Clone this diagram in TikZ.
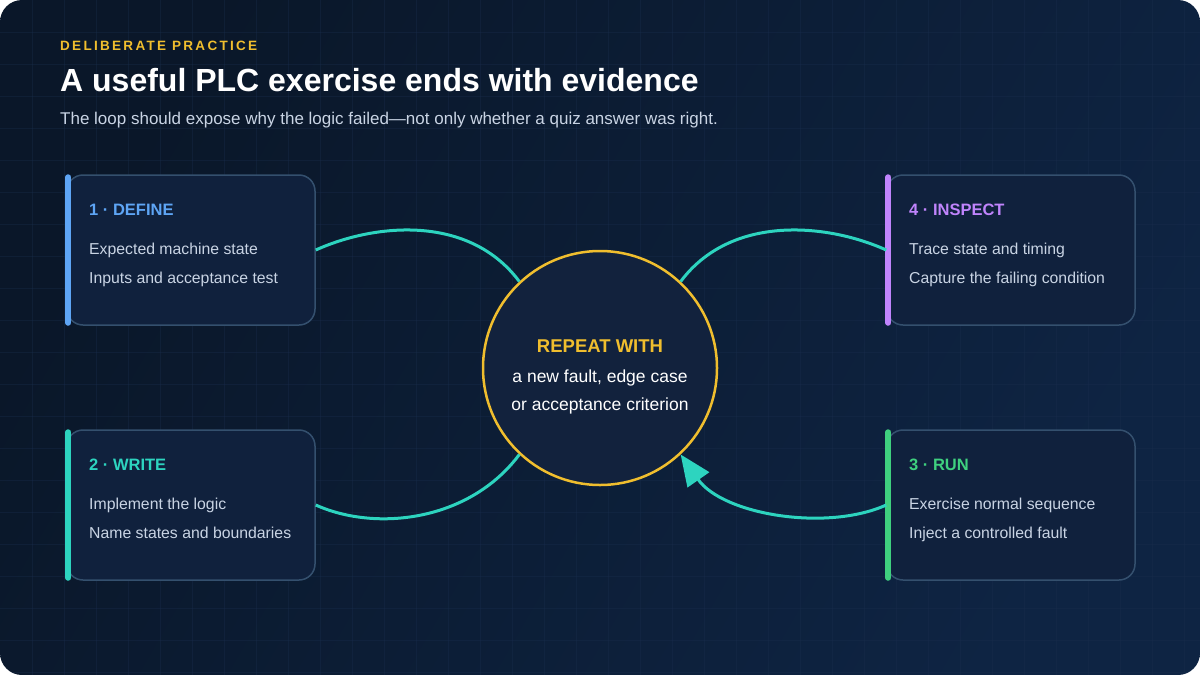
\documentclass[tikz,border=0pt]{standalone}
\usepackage{fontspec}
\setmainfont{Liberation Sans}
\newfontfamily\kickerfont[LetterSpace=17]{Liberation Sans}
\usetikzlibrary{arrows.meta}
\definecolor{bgdark}{HTML}{0A1729}
\definecolor{bglite}{HTML}{0E2443}
\definecolor{gridcol}{HTML}{1A2E4E}
\definecolor{cardfill}{HTML}{10213D}
\definecolor{cardline}{HTML}{34506E}
\definecolor{hubfill}{HTML}{12223D}
\definecolor{bodytext}{HTML}{C9D4E4}
\definecolor{gold}{HTML}{F0BE2E}
\definecolor{loopcol}{HTML}{2DD4BF}
\definecolor{defcol}{HTML}{5EA5F5}
\definecolor{inspcol}{HTML}{C084FC}
\definecolor{runcol}{HTML}{3FD07F}
\tikzset{every picture/.style={x=1pt,y=-1pt}}
\tikzset{card/.style={draw=cardline,fill=cardfill,line width=1.5pt,rounded corners=16pt,minimum width=248pt,minimum height=150pt,inner sep=0pt}}
\tikzset{bar/.style={line width=6pt,line cap=round,shorten <=3pt,shorten >=3pt}}
\tikzset{head/.style={anchor=base west,inner sep=0pt,font=\bfseries\fontsize{16.5}{19}\selectfont}}
\tikzset{body/.style={anchor=base west,inner sep=0pt,text=bodytext,font=\fontsize{15.8}{19}\selectfont}}
\tikzset{hub/.style={circle,draw=gold,line width=2.5pt,fill=hubfill,minimum size=234pt,inner sep=0pt}}
\tikzset{flow/.style={loopcol,line width=3pt}}

\begin{document}
\begin{tikzpicture}
\useasboundingbox (0,0) rectangle (1200,675);
\shade [rounded corners=22pt,left color=bgdark,right color=bglite,shading angle=60] (0,0) rectangle (1200,675);
\begin{scope}
\clip [rounded corners=22pt] (0,0) rectangle (1200,675);
\foreach \gx in {32,64,...,1184} \draw [gridcol,line width=0.8pt,opacity=0.35] (\gx,0) -- (\gx,675);
\foreach \gy in {32,64,...,672} \draw [gridcol,line width=0.8pt,opacity=0.35] (0,\gy) -- (1200,\gy);
\end{scope}

% header
\node [anchor=base west,inner sep=0pt,gold,font=\kickerfont\bfseries\fontsize{13.5}{16}\selectfont] (kicker) at (60,50) {DELIBERATE PRACTICE};
\node [anchor=base west,inner sep=0pt,white,font=\bfseries\fontsize{32}{36}\selectfont] (title) at (60,91) {A useful PLC exercise ends with evidence};
\node [anchor=base west,inner sep=0pt,bodytext,font=\fontsize{17}{20}\selectfont] (sub) at (60,124) {The loop should expose why the logic failed---not only whether a quiz answer was right.};

% cards
\node [card] (def) at (191,250) {};
\node [card] (wri) at (191,505) {};
\node [card] (insp) at (1011,250) {};
\node [card] (run) at (1011,505) {};
\draw [bar,defcol] ([xshift=2pt]def.north west) -- ([xshift=2pt]def.south west);
\draw [bar,loopcol] ([xshift=2pt]wri.north west) -- ([xshift=2pt]wri.south west);
\draw [bar,inspcol] ([xshift=2pt]insp.north west) -- ([xshift=2pt]insp.south west);
\draw [bar,runcol] ([xshift=2pt]run.north west) -- ([xshift=2pt]run.south west);

\node [head,defcol] (defh) at (89,215) {1 · DEFINE};
\node [body] (def1) at (89,254) {Expected machine state};
\node [body] (def2) at (89,283) {Inputs and acceptance test};

\node [head,loopcol] (wrih) at (89,470) {2 · WRITE};
\node [body] (wri1) at (89,509) {Implement the logic};
\node [body] (wri2) at (89,538) {Name states and boundaries};

\node [head,runcol] (runh) at (909,470) {3 · RUN};
\node [body] (run1) at (909,509) {Exercise normal sequence};
\node [body] (run2) at (909,538) {Inject a controlled fault};

\node [head,inspcol] (insph) at (909,215) {4 · INSPECT};
\node [body] (insp1) at (909,254) {Trace state and timing};
\node [body] (insp2) at (909,283) {Capture the failing condition};

% loop hub
\node [hub] (loop) at (600,368) {};
\node [anchor=base,inner sep=0pt,gold,font=\bfseries\fontsize{18.5}{21}\selectfont] (rep) at (600,352) {REPEAT WITH};
\node [anchor=base,inner sep=0pt,white,font=\fontsize{17.5}{20}\selectfont] (rep1) at (600,382) {a new fault, edge case};
\node [anchor=base,inner sep=0pt,white,font=\fontsize{17.5}{20}\selectfont] (rep2) at (600,410) {or acceptance criterion};

\draw [flow] (def.east) .. controls +(60,-27) and +(-50,-67) .. (loop.133);
\draw [flow] (insp.west) .. controls +(-60,-27) and +(50,-67) .. (loop.47);
\draw [flow] (wri.east) .. controls +(60,27) and +(-50,67) .. (loop.227);
\draw [flow,-{Triangle[length=31pt,width=26pt]}] (run.west) .. controls +(-60,27) and +(42,60) .. (loop.313);
\end{tikzpicture}
\end{document}
